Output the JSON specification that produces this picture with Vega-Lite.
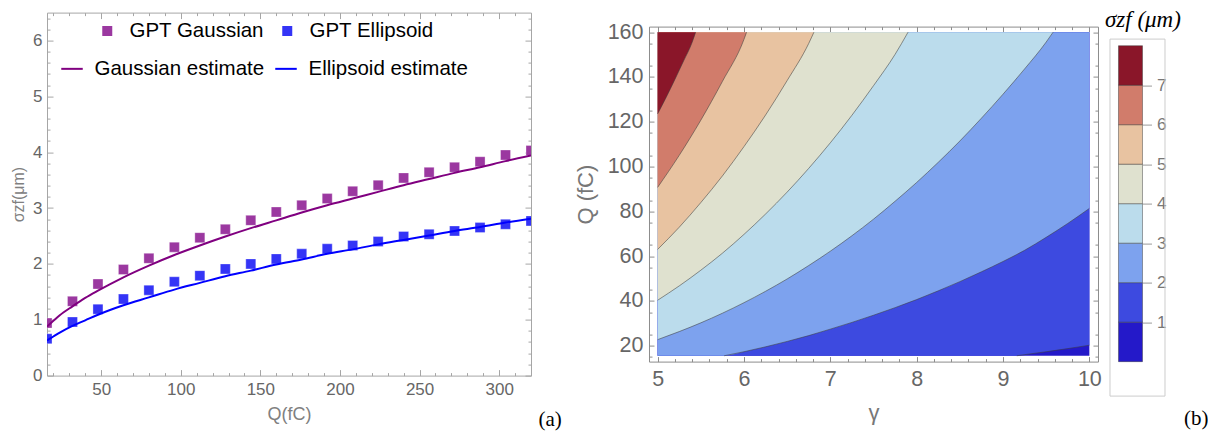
{
  "$schema": "https://vega.github.io/schema/vega-lite/v6.json",
  "background": "white",
  "padding": {"left": 10, "top": 8.6, "right": 0, "bottom": 0},
  "config": {
    "font": "Liberation Sans",
    "axis": {"grid": false, "domain": false, "labelFont": "Liberation Sans", "titleFont": "Liberation Sans", "titleFontWeight": "normal"},
    "legend": {"labelFont": "Liberation Sans", "padding": 0, "labelLimit": 400}
  },
  "datasets": {
    "gpt": [
      {"Q": 16, "series": "GPT Gaussian", "sigma": 0.94},
      {"Q": 32, "series": "GPT Gaussian", "sigma": 1.33},
      {"Q": 48, "series": "GPT Gaussian", "sigma": 1.64},
      {"Q": 64, "series": "GPT Gaussian", "sigma": 1.9},
      {"Q": 80, "series": "GPT Gaussian", "sigma": 2.1},
      {"Q": 96, "series": "GPT Gaussian", "sigma": 2.3},
      {"Q": 112, "series": "GPT Gaussian", "sigma": 2.47},
      {"Q": 128, "series": "GPT Gaussian", "sigma": 2.62},
      {"Q": 144, "series": "GPT Gaussian", "sigma": 2.78},
      {"Q": 160, "series": "GPT Gaussian", "sigma": 2.93},
      {"Q": 176, "series": "GPT Gaussian", "sigma": 3.05},
      {"Q": 192, "series": "GPT Gaussian", "sigma": 3.17},
      {"Q": 208, "series": "GPT Gaussian", "sigma": 3.3},
      {"Q": 224, "series": "GPT Gaussian", "sigma": 3.41},
      {"Q": 240, "series": "GPT Gaussian", "sigma": 3.54},
      {"Q": 256, "series": "GPT Gaussian", "sigma": 3.64},
      {"Q": 272, "series": "GPT Gaussian", "sigma": 3.73},
      {"Q": 288, "series": "GPT Gaussian", "sigma": 3.83},
      {"Q": 304, "series": "GPT Gaussian", "sigma": 3.95},
      {"Q": 320, "series": "GPT Gaussian", "sigma": 4.03},
      {"Q": 16, "series": "GPT Ellipsoid", "sigma": 0.66},
      {"Q": 32, "series": "GPT Ellipsoid", "sigma": 0.96},
      {"Q": 48, "series": "GPT Ellipsoid", "sigma": 1.19},
      {"Q": 64, "series": "GPT Ellipsoid", "sigma": 1.37},
      {"Q": 80, "series": "GPT Ellipsoid", "sigma": 1.53},
      {"Q": 96, "series": "GPT Ellipsoid", "sigma": 1.68},
      {"Q": 112, "series": "GPT Ellipsoid", "sigma": 1.79},
      {"Q": 128, "series": "GPT Ellipsoid", "sigma": 1.91},
      {"Q": 144, "series": "GPT Ellipsoid", "sigma": 2.0},
      {"Q": 160, "series": "GPT Ellipsoid", "sigma": 2.09},
      {"Q": 176, "series": "GPT Ellipsoid", "sigma": 2.18},
      {"Q": 192, "series": "GPT Ellipsoid", "sigma": 2.27},
      {"Q": 208, "series": "GPT Ellipsoid", "sigma": 2.33},
      {"Q": 224, "series": "GPT Ellipsoid", "sigma": 2.4},
      {"Q": 240, "series": "GPT Ellipsoid", "sigma": 2.49},
      {"Q": 256, "series": "GPT Ellipsoid", "sigma": 2.53},
      {"Q": 272, "series": "GPT Ellipsoid", "sigma": 2.59},
      {"Q": 288, "series": "GPT Ellipsoid", "sigma": 2.65},
      {"Q": 304, "series": "GPT Ellipsoid", "sigma": 2.71},
      {"Q": 320, "series": "GPT Ellipsoid", "sigma": 2.77}
    ],
    "estimate": [
      {"Q": 16, "series": "Gaussian estimate", "sigma": 0.88},
      {"Q": 20, "series": "Gaussian estimate", "sigma": 0.98},
      {"Q": 24, "series": "Gaussian estimate", "sigma": 1.08},
      {"Q": 32, "series": "Gaussian estimate", "sigma": 1.24},
      {"Q": 40, "series": "Gaussian estimate", "sigma": 1.39},
      {"Q": 48, "series": "Gaussian estimate", "sigma": 1.52},
      {"Q": 64, "series": "Gaussian estimate", "sigma": 1.76},
      {"Q": 80, "series": "Gaussian estimate", "sigma": 1.97},
      {"Q": 96, "series": "Gaussian estimate", "sigma": 2.16},
      {"Q": 112, "series": "Gaussian estimate", "sigma": 2.33},
      {"Q": 128, "series": "Gaussian estimate", "sigma": 2.49},
      {"Q": 144, "series": "Gaussian estimate", "sigma": 2.64},
      {"Q": 160, "series": "Gaussian estimate", "sigma": 2.78},
      {"Q": 176, "series": "Gaussian estimate", "sigma": 2.92},
      {"Q": 192, "series": "Gaussian estimate", "sigma": 3.05},
      {"Q": 208, "series": "Gaussian estimate", "sigma": 3.17},
      {"Q": 224, "series": "Gaussian estimate", "sigma": 3.29},
      {"Q": 240, "series": "Gaussian estimate", "sigma": 3.41},
      {"Q": 256, "series": "Gaussian estimate", "sigma": 3.52},
      {"Q": 272, "series": "Gaussian estimate", "sigma": 3.63},
      {"Q": 288, "series": "Gaussian estimate", "sigma": 3.73},
      {"Q": 304, "series": "Gaussian estimate", "sigma": 3.84},
      {"Q": 320, "series": "Gaussian estimate", "sigma": 3.94},
      {"Q": 16, "series": "Ellipsoid estimate", "sigma": 0.63},
      {"Q": 20, "series": "Ellipsoid estimate", "sigma": 0.7},
      {"Q": 24, "series": "Ellipsoid estimate", "sigma": 0.77},
      {"Q": 32, "series": "Ellipsoid estimate", "sigma": 0.89},
      {"Q": 40, "series": "Ellipsoid estimate", "sigma": 0.99},
      {"Q": 48, "series": "Ellipsoid estimate", "sigma": 1.09},
      {"Q": 64, "series": "Ellipsoid estimate", "sigma": 1.26},
      {"Q": 80, "series": "Ellipsoid estimate", "sigma": 1.4},
      {"Q": 96, "series": "Ellipsoid estimate", "sigma": 1.54},
      {"Q": 112, "series": "Ellipsoid estimate", "sigma": 1.66},
      {"Q": 128, "series": "Ellipsoid estimate", "sigma": 1.78},
      {"Q": 144, "series": "Ellipsoid estimate", "sigma": 1.88},
      {"Q": 160, "series": "Ellipsoid estimate", "sigma": 1.99},
      {"Q": 176, "series": "Ellipsoid estimate", "sigma": 2.08},
      {"Q": 192, "series": "Ellipsoid estimate", "sigma": 2.18},
      {"Q": 208, "series": "Ellipsoid estimate", "sigma": 2.26},
      {"Q": 224, "series": "Ellipsoid estimate", "sigma": 2.35},
      {"Q": 240, "series": "Ellipsoid estimate", "sigma": 2.43},
      {"Q": 256, "series": "Ellipsoid estimate", "sigma": 2.51},
      {"Q": 272, "series": "Ellipsoid estimate", "sigma": 2.59},
      {"Q": 288, "series": "Ellipsoid estimate", "sigma": 2.66},
      {"Q": 304, "series": "Ellipsoid estimate", "sigma": 2.74},
      {"Q": 320, "series": "Ellipsoid estimate", "sigma": 2.81}
    ],
    "domainbox": [
      {"g0": 5, "g1": 10, "q0": 15.5, "q1": 160, "band": 0}
    ],
    "bands": [
      {"band": 1, "gamma": 5, "q": 15.5, "c": 0},
      {"band": 1, "gamma": 9.16, "q": 15.5, "c": 1},
      {"band": 1, "gamma": 9.25, "q": 16.0, "c": 1},
      {"band": 1, "gamma": 9.5, "q": 17.3, "c": 1},
      {"band": 1, "gamma": 9.75, "q": 18.7, "c": 1},
      {"band": 1, "gamma": 10, "q": 20.2, "c": 1},
      {"band": 2, "gamma": 5, "q": 15.5, "c": 0},
      {"band": 2, "gamma": 5.77, "q": 15.5, "c": 1},
      {"band": 2, "gamma": 6, "q": 17.3, "c": 1},
      {"band": 2, "gamma": 6.25, "q": 19.5, "c": 1},
      {"band": 2, "gamma": 6.5, "q": 21.9, "c": 1},
      {"band": 2, "gamma": 6.75, "q": 24.5, "c": 1},
      {"band": 2, "gamma": 7, "q": 27.4, "c": 1},
      {"band": 2, "gamma": 7.25, "q": 30.4, "c": 1},
      {"band": 2, "gamma": 7.5, "q": 33.6, "c": 1},
      {"band": 2, "gamma": 7.75, "q": 37.0, "c": 1},
      {"band": 2, "gamma": 8, "q": 40.6, "c": 1},
      {"band": 2, "gamma": 8.25, "q": 44.5, "c": 1},
      {"band": 2, "gamma": 8.5, "q": 48.6, "c": 1},
      {"band": 2, "gamma": 8.75, "q": 53.0, "c": 1},
      {"band": 2, "gamma": 9, "q": 57.6, "c": 1},
      {"band": 2, "gamma": 9.25, "q": 62.6, "c": 1},
      {"band": 2, "gamma": 9.5, "q": 68.4, "c": 1},
      {"band": 2, "gamma": 9.75, "q": 74.6, "c": 1},
      {"band": 2, "gamma": 10, "q": 81.3, "c": 1},
      {"band": 3, "gamma": 5, "q": 22.7, "c": 1},
      {"band": 3, "gamma": 5.25, "q": 26.3, "c": 1},
      {"band": 3, "gamma": 5.5, "q": 30.2, "c": 1},
      {"band": 3, "gamma": 5.75, "q": 34.5, "c": 1},
      {"band": 3, "gamma": 6, "q": 39.2, "c": 1},
      {"band": 3, "gamma": 6.25, "q": 44.3, "c": 1},
      {"band": 3, "gamma": 6.5, "q": 49.8, "c": 1},
      {"band": 3, "gamma": 6.75, "q": 55.8, "c": 1},
      {"band": 3, "gamma": 7, "q": 62.2, "c": 1},
      {"band": 3, "gamma": 7.25, "q": 69.1, "c": 1},
      {"band": 3, "gamma": 7.5, "q": 76.5, "c": 1},
      {"band": 3, "gamma": 7.75, "q": 84.5, "c": 1},
      {"band": 3, "gamma": 8, "q": 92.9, "c": 1},
      {"band": 3, "gamma": 8.25, "q": 101.9, "c": 1},
      {"band": 3, "gamma": 8.5, "q": 111.4, "c": 1},
      {"band": 3, "gamma": 8.75, "q": 121.6, "c": 1},
      {"band": 3, "gamma": 9, "q": 132.3, "c": 1},
      {"band": 3, "gamma": 9.25, "q": 143.6, "c": 1},
      {"band": 3, "gamma": 9.5, "q": 155.6, "c": 1},
      {"band": 3, "gamma": 9.58, "q": 160, "c": 1},
      {"band": 4, "gamma": 5, "q": 40.3, "c": 1},
      {"band": 4, "gamma": 5.25, "q": 46.7, "c": 1},
      {"band": 4, "gamma": 5.5, "q": 53.7, "c": 1},
      {"band": 4, "gamma": 5.75, "q": 61.3, "c": 1},
      {"band": 4, "gamma": 6, "q": 69.7, "c": 1},
      {"band": 4, "gamma": 6.25, "q": 78.8, "c": 1},
      {"band": 4, "gamma": 6.5, "q": 88.6, "c": 1},
      {"band": 4, "gamma": 6.75, "q": 99.2, "c": 1},
      {"band": 4, "gamma": 7, "q": 110.6, "c": 1},
      {"band": 4, "gamma": 7.25, "q": 122.9, "c": 1},
      {"band": 4, "gamma": 7.5, "q": 136.1, "c": 1},
      {"band": 4, "gamma": 7.75, "q": 150.1, "c": 1},
      {"band": 4, "gamma": 7.9, "q": 160, "c": 1},
      {"band": 5, "gamma": 5, "q": 63.0, "c": 1},
      {"band": 5, "gamma": 5.25, "q": 72.9, "c": 1},
      {"band": 5, "gamma": 5.5, "q": 83.9, "c": 1},
      {"band": 5, "gamma": 5.75, "q": 95.8, "c": 1},
      {"band": 5, "gamma": 6, "q": 108.9, "c": 1},
      {"band": 5, "gamma": 6.25, "q": 123.0, "c": 1},
      {"band": 5, "gamma": 6.5, "q": 138.4, "c": 1},
      {"band": 5, "gamma": 6.75, "q": 155.0, "c": 1},
      {"band": 5, "gamma": 6.81, "q": 160, "c": 1},
      {"band": 6, "gamma": 5, "q": 90.7, "c": 1},
      {"band": 6, "gamma": 5.25, "q": 105.0, "c": 1},
      {"band": 6, "gamma": 5.5, "q": 120.7, "c": 1},
      {"band": 6, "gamma": 5.75, "q": 138.0, "c": 1},
      {"band": 6, "gamma": 6, "q": 156.8, "c": 1},
      {"band": 6, "gamma": 6.03, "q": 160, "c": 1},
      {"band": 7, "gamma": 5, "q": 123.5, "c": 1},
      {"band": 7, "gamma": 5.1, "q": 131.0, "c": 1},
      {"band": 7, "gamma": 5.2, "q": 138.9, "c": 1},
      {"band": 7, "gamma": 5.3, "q": 147.1, "c": 1},
      {"band": 7, "gamma": 5.4, "q": 155.5, "c": 1},
      {"band": 7, "gamma": 5.44, "q": 160, "c": 1}
    ],
    "levels": [
      {"band": 0, "lo": 0, "hi": 1},
      {"band": 1, "lo": 1, "hi": 2},
      {"band": 2, "lo": 2, "hi": 3},
      {"band": 3, "lo": 3, "hi": 4},
      {"band": 4, "lo": 4, "hi": 5},
      {"band": 5, "lo": 5, "hi": 6},
      {"band": 6, "lo": 6, "hi": 7},
      {"band": 7, "lo": 7, "hi": 8}
    ]
  },
  "hconcat": [
    {
      "width": 484,
      "height": 363,
      "view": {"stroke": "#a6a6a6"},
      "title": {"text": "(a)", "orient": "bottom", "anchor": "end", "dx": 28, "offset": -15, "font": "Liberation Serif", "fontSize": 21, "fontWeight": "normal", "color": "#000000"},
      "layer": [
        {
          "data": {"name": "gpt"},
          "mark": {"type": "point", "shape": "square", "filled": true, "size": 100, "opacity": 1, "clip": true, "stroke": "#ffffff", "strokeWidth": 0.8, "strokeOpacity": 0.4},
          "encoding": {
            "x": {"field": "Q", "type": "quantitative", "scale": {"domain": [16, 320], "nice": false, "zero": false},
              "axis": {"orient": "bottom", "values": [50, 100, 150, 200, 250, 300], "ticks": false, "labelFontSize": 17, "labelColor": "#666666", "labelPadding": 6, "title": "Q(fC)", "titleFontSize": 18, "titleColor": "#808080", "titlePadding": 8}},
            "y": {"field": "sigma", "type": "quantitative", "scale": {"domain": [0, 6.5], "nice": false, "zero": false},
              "axis": {"orient": "left", "values": [0, 1, 2, 3, 4, 5, 6], "ticks": false, "labelFontSize": 17, "labelColor": "#666666", "labelPadding": 5, "title": "σzf(μm)", "titleFontSize": 16, "titleColor": "#808080", "titlePadding": 6}},
            "fill": {"field": "series", "type": "nominal",
              "scale": {"domain": ["GPT Gaussian", "GPT Ellipsoid"], "range": ["#9b38a0", "#3434f6"]},
              "legend": {"orient": "none", "legendX": 50, "legendY": 8, "direction": "horizontal", "title": null, "symbolType": "square", "symbolSize": 100, "symbolStrokeWidth": 0, "labelFontSize": 20.5, "labelColor": "#000000", "labelOffset": 12, "columnPadding": 13}}
          }
        },
        {
          "data": {"name": "estimate"},
          "mark": {"type": "line", "strokeWidth": 2, "interpolate": "monotone", "clip": true},
          "encoding": {
            "x": {"field": "Q", "type": "quantitative",
              "axis": {"orient": "top", "values": [50, 100, 150, 200, 250, 300], "labels": false, "tickSize": -6, "tickColor": "#a6a6a6", "title": null}},
            "y": {"field": "sigma", "type": "quantitative",
              "axis": {"orient": "right", "values": [0, 1, 2, 3, 4, 5, 6], "labels": false, "tickSize": -6, "tickColor": "#a6a6a6", "title": null}},
            "stroke": {"field": "series", "type": "nominal",
              "scale": {"domain": ["Gaussian estimate", "Ellipsoid estimate"], "range": ["#800080", "#0000ff"]},
              "legend": {"orient": "none", "legendX": 13, "legendY": 44, "direction": "horizontal", "title": null, "symbolType": "stroke", "symbolSize": 462, "symbolStrokeWidth": 2, "labelFontSize": 20.5, "labelColor": "#000000", "labelOffset": 10.5, "columnPadding": 6}}
          }
        },
        {
          "data": {"name": "gpt"},
          "mark": {"type": "point", "opacity": 0},
          "encoding": {
            "x": {"field": "Q", "type": "quantitative",
              "axis": {"orient": "bottom", "values": [50, 100, 150, 200, 250, 300], "labels": false, "tickSize": -6, "tickColor": "#a6a6a6", "title": null}},
            "y": {"field": "sigma", "type": "quantitative",
              "axis": {"orient": "left", "values": [0, 1, 2, 3, 4, 5, 6], "labels": false, "tickSize": -6, "tickColor": "#a6a6a6", "title": null}}
          }
        },
        {
          "data": {"name": "gpt"},
          "mark": {"type": "point", "opacity": 0},
          "encoding": {
            "x": {"field": "Q", "type": "quantitative",
              "axis": {"orient": "bottom", "values": [20, 30, 40, 60, 70, 80, 90, 110, 120, 130, 140, 160, 170, 180, 190, 210, 220, 230, 240, 260, 270, 280, 290, 310], "labels": false, "tickSize": -3, "tickColor": "#a6a6a6", "title": null}},
            "y": {"field": "sigma", "type": "quantitative",
              "axis": {"orient": "left", "values": [0.2, 0.4, 0.6, 0.8, 1.2, 1.4, 1.6, 1.8, 2.2, 2.4, 2.6, 2.8, 3.2, 3.4, 3.6, 3.8, 4.2, 4.4, 4.6, 4.8, 5.2, 5.4, 5.6, 5.8, 6.2, 6.4], "labels": false, "tickSize": -3, "tickColor": "#a6a6a6", "title": null}}
          }
        },
        {
          "data": {"name": "gpt"},
          "mark": {"type": "point", "opacity": 0},
          "encoding": {
            "x": {"field": "Q", "type": "quantitative",
              "axis": {"orient": "top", "values": [20, 30, 40, 60, 70, 80, 90, 110, 120, 130, 140, 160, 170, 180, 190, 210, 220, 230, 240, 260, 270, 280, 290, 310], "labels": false, "tickSize": -3, "tickColor": "#a6a6a6", "title": null}},
            "y": {"field": "sigma", "type": "quantitative",
              "axis": {"orient": "right", "values": [0.2, 0.4, 0.6, 0.8, 1.2, 1.4, 1.6, 1.8, 2.2, 2.4, 2.6, 2.8, 3.2, 3.4, 3.6, 3.8, 4.2, 4.4, 4.6, 4.8, 5.2, 5.4, 5.6, 5.8, 6.2, 6.4], "labels": false, "tickSize": -3, "tickColor": "#a6a6a6", "title": null}}
          }
        }
      ],
      "resolve": {"axis": {"x": "independent", "y": "independent"}}
    },
    {
      "spacing": 2.5,
      "hconcat": [
        {
          "width": 449,
          "height": 349,
          "view": {"stroke": null},
          "layer": [
            {
              "data": {"name": "domainbox"},
              "mark": {"type": "rect"},
              "encoding": {
                "x": {"field": "g0", "type": "quantitative", "scale": {"domain": [4.9, 10.1], "nice": false, "zero": false},
                  "axis": {"orient": "bottom", "values": [5, 6, 7, 8, 9, 10], "ticks": false, "domain": true, "domainColor": "#8c8c8c", "labelFontSize": 21.5, "labelColor": "#666666", "labelPadding": 7, "title": "γ", "titleFontSize": 22, "titleColor": "#777777", "titlePadding": 12}},
                "x2": {"field": "g1"},
                "y": {"field": "q0", "type": "quantitative", "scale": {"domain": [12.9, 162.5], "range": [349, 14], "nice": false, "zero": false},
                  "axis": {"orient": "left", "values": [20, 40, 60, 80, 100, 120, 140, 160], "ticks": false, "domain": true, "domainColor": "#8c8c8c", "labelFontSize": 21.5, "labelColor": "#666666", "labelPadding": 6, "title": "Q (fC)", "titleFontSize": 22, "titleColor": "#777777", "titlePadding": 10}},
                "y2": {"field": "q1"},
                "color": {"field": "band", "type": "ordinal",
                  "scale": {"domain": [0, 1, 2, 3, 4, 5, 6, 7], "range": ["#2419c9", "#3d4ae0", "#7da2ee", "#bbdcec", "#dfe1cf", "#e8c3a1", "#d17c6b", "#8a1629"]},
                  "legend": null}
              }
            },
            {
              "data": {"name": "bands"},
              "mark": {"type": "area", "interpolate": "monotone"},
              "encoding": {
                "x": {"field": "gamma", "type": "quantitative",
                  "axis": {"orient": "top", "offset": -14, "values": [5, 6, 7, 8, 9, 10], "labels": false, "tickSize": -5, "tickColor": "#8c8c8c", "domain": true, "domainColor": "#8c8c8c", "title": null}},
                "y": {"field": "q", "type": "quantitative", "stack": null,
                  "axis": {"orient": "right", "values": [20, 40, 60, 80, 100, 120, 140, 160], "labels": false, "tickSize": -5, "tickColor": "#8c8c8c", "domain": true, "domainColor": "#8c8c8c", "title": null}},
                "y2": {"datum": 160},
                "color": {"field": "band", "type": "ordinal", "legend": null}
              }
            },
            {
              "data": {"name": "bands"},
              "transform": [{"filter": "datum.c == 1"}],
              "mark": {"type": "line", "interpolate": "monotone", "stroke": "#3c3c3c", "strokeOpacity": 0.55, "strokeWidth": 1},
              "encoding": {
                "x": {"field": "gamma", "type": "quantitative",
                  "axis": {"orient": "bottom", "values": [5, 6, 7, 8, 9, 10], "labels": false, "tickSize": -5, "tickColor": "#8c8c8c", "title": null}},
                "y": {"field": "q", "type": "quantitative",
                  "axis": {"orient": "left", "values": [20, 40, 60, 80, 100, 120, 140, 160], "labels": false, "tickSize": -5, "tickColor": "#8c8c8c", "title": null}},
                "detail": {"field": "band", "type": "nominal"}
              }
            },
            {
              "data": {"name": "domainbox"},
              "mark": {"type": "point", "opacity": 0},
              "encoding": {
                "x": {"field": "g0", "type": "quantitative",
                  "axis": {"orient": "bottom", "values": [5.2, 5.4, 5.6, 5.8, 6.2, 6.4, 6.6, 6.8, 7.2, 7.4, 7.6, 7.8, 8.2, 8.4, 8.6, 8.8, 9.2, 9.4, 9.6, 9.8], "labels": false, "tickSize": -3, "tickColor": "#8c8c8c", "title": null}},
                "y": {"field": "q0", "type": "quantitative",
                  "axis": {"orient": "left", "values": [15, 25, 35, 45, 55, 65, 75, 85, 95, 105, 115, 125, 135, 145, 155], "labels": false, "tickSize": -3, "tickColor": "#8c8c8c", "title": null}}
              }
            },
            {
              "data": {"name": "domainbox"},
              "mark": {"type": "point", "opacity": 0},
              "encoding": {
                "x": {"field": "g0", "type": "quantitative",
                  "axis": {"orient": "top", "offset": -14, "values": [5.2, 5.4, 5.6, 5.8, 6.2, 6.4, 6.6, 6.8, 7.2, 7.4, 7.6, 7.8, 8.2, 8.4, 8.6, 8.8, 9.2, 9.4, 9.6, 9.8], "labels": false, "tickSize": -3, "tickColor": "#8c8c8c", "title": null}},
                "y": {"field": "q0", "type": "quantitative",
                  "axis": {"orient": "right", "values": [15, 25, 35, 45, 55, 65, 75, 85, 95, 105, 115, 125, 135, 145, 155], "labels": false, "tickSize": -3, "tickColor": "#8c8c8c", "title": null}}
              }
            }
          ],
          "resolve": {"axis": {"x": "independent", "y": "independent"}}
        },
        {
          "width": 55,
          "height": 383,
          "view": {"stroke": null},
          "data": {"name": "levels"},
          "layer": [
            {
              "mark": {"type": "rect", "stroke": "#333333", "strokeOpacity": 0.45, "strokeWidth": 1},
              "encoding": {
                "x": {"datum": 0, "type": "quantitative", "scale": {"domain": [-0.375, 1.917], "nice": false, "zero": false},
                  "axis": {"orient": "bottom", "domain": true, "domainColor": "#cccccc", "labels": false, "ticks": false, "title": "(b)", "titleFont": "Liberation Serif", "titleFontSize": 21, "titleColor": "#000000", "titleFontWeight": "normal", "titleX": 74, "titleY": 23, "titleAlign": "left", "titleBaseline": "middle", "titleAngle": 0}},
                "x2": {"datum": 1},
                "y": {"field": "lo", "type": "quantitative", "scale": {"domain": [-0.86, 8.18], "range": [383, 26], "nice": false, "zero": false},
                  "axis": {"orient": "right", "offset": -22, "values": [1, 2, 3, 4, 5, 6, 7], "tickSize": 9, "tickColor": "#9a9a9a", "labelFontSize": 17, "labelColor": "#777777", "labelPadding": 5, "title": null}},
                "y2": {"field": "hi"},
                "color": {"field": "band", "type": "ordinal", "scale": {"domain": [0, 1, 2, 3, 4, 5, 6, 7], "range": ["#2419c9", "#3d4ae0", "#7da2ee", "#bbdcec", "#dfe1cf", "#e8c3a1", "#d17c6b", "#8a1629"]}, "legend": null}
              }
            },
            {
              "mark": {"type": "point", "opacity": 0},
              "encoding": {
                "x": {"datum": 0, "type": "quantitative",
                  "axis": {"orient": "top", "offset": -26, "domain": true, "domainColor": "#cccccc", "labels": false, "ticks": false, "title": "σzf (μm)", "titleFont": "Liberation Serif", "titleFontStyle": "italic", "titleFontSize": 23, "titleColor": "#000000", "titleFontWeight": "normal", "titleX": -5, "titleY": -12, "titleAlign": "left", "titleBaseline": "alphabetic", "titleAngle": 0}},
                "y": {"field": "lo", "type": "quantitative",
                  "axis": {"orient": "left", "domain": true, "domainColor": "#cccccc", "labels": false, "ticks": false, "title": null}}
              }
            },
            {
              "mark": {"type": "point", "opacity": 0},
              "encoding": {
                "x": {"datum": 0, "type": "quantitative", "axis": null},
                "y": {"field": "lo", "type": "quantitative",
                  "axis": {"orient": "right", "domain": true, "domainColor": "#cccccc", "labels": false, "ticks": false, "title": null}}
              }
            }
          ],
          "resolve": {"axis": {"x": "independent", "y": "independent"}}
        }
      ]
    }
  ],
  "spacing": 11
}
